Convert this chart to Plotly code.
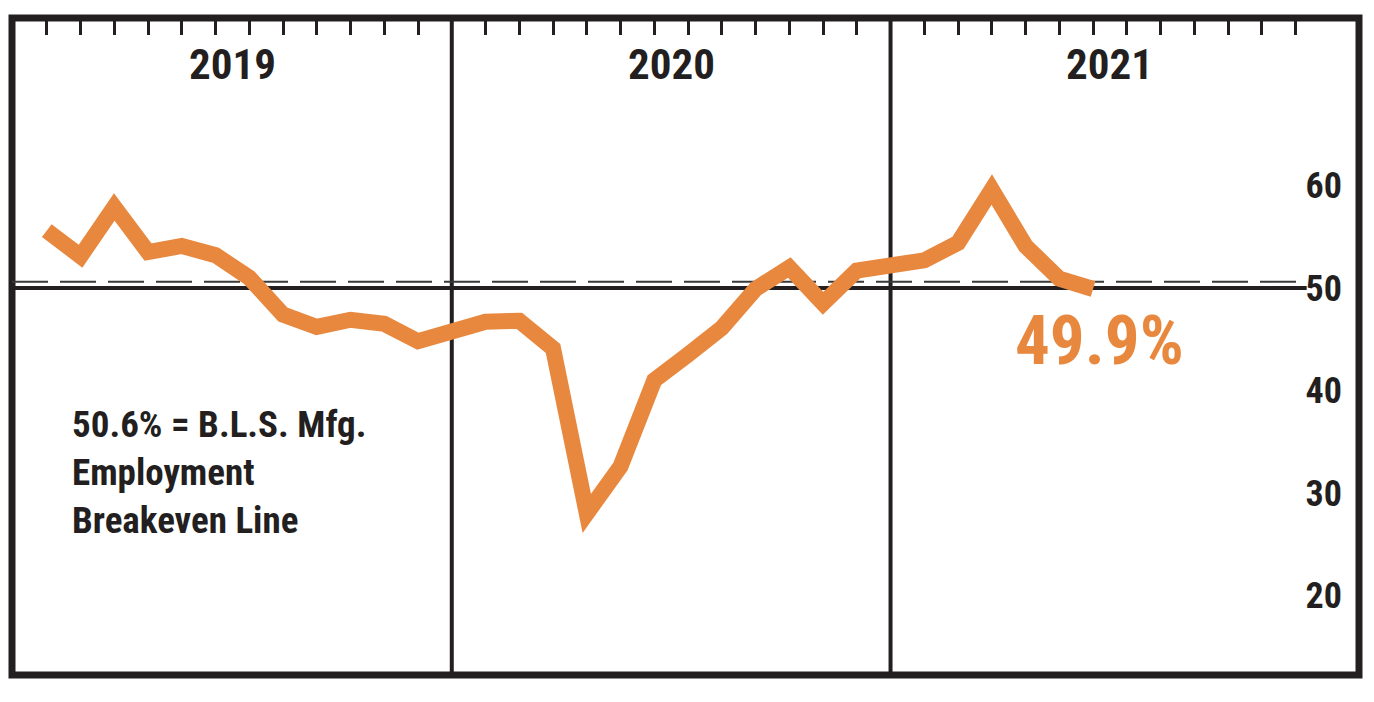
import plotly.graph_objects as go

# ---------------- data ----------------
years = [2019, 2020, 2021]
months = ["Jan", "Feb", "Mar", "Apr", "May", "Jun",
          "Jul", "Aug", "Sep", "Oct", "Nov", "Dec"]
values_2019 = [55.6, 53.1, 57.9, 53.5, 54.1, 53.2, 51.0, 47.4, 46.2, 46.9, 46.5, 44.8]
values_2020 = [46.7, 46.8, 44.1, 28.0, 32.6, 41.0, 43.5, 46.1, 49.9, 52.0, 48.5, 51.7]
values_2021 = [52.7, 54.4, 59.6, 54.1, 50.9, 49.9]
breakeven = 50.6
baseline = 50
y_ticks = [20, 30, 40, 50, 60]
latest_label = "49.9%"
note_lines = ["50.6% = B.L.S. Mfg.", "Employment", "Breakeven Line"]

# ---------------- style ----------------
ORANGE = "#E8883E"
INK = "#231F20"
FONT = "Roboto Condensed, Open Sans, sans-serif"
SLOTS_PER_YEAR = 13  # 12 months + one gap slot at each year divider


def font(size, color=INK):
    return dict(family=FONT, size=size, color=color, weight="bold")


def slot(year_i, month_i):
    return year_i * SLOTS_PER_YEAR + month_i + 1


series = [values_2019, values_2020, values_2021]
xs, ys, labels = [], [], []
for yi, vals in enumerate(series):
    for mi, v in enumerate(vals):
        xs.append(slot(yi, mi))
        ys.append(v)
        labels.append(f"{months[mi]} {years[yi]}")

tick_slots = [slot(yi, mi) for yi in range(len(years)) for mi in range(12)]

fig = go.Figure()
fig.add_trace(go.Scatter(
    x=xs, y=ys, mode="lines", text=labels,
    line=dict(color=ORANGE, width=16),
    hovertemplate="%{text}: %{y}<extra></extra>",
    showlegend=False,
))

x_range = [-0.03, 39.88]
y_range = [12.24, 76.34]

shapes = [
    # outer frame
    dict(type="rect", xref="paper", yref="paper", x0=0, x1=1, y0=0, y1=1,
         line=dict(color=INK, width=7), layer="below"),
    # breakeven dashed line
    dict(type="line", xref="x", yref="y", x0=x_range[0], x1=38.04,
         y0=breakeven, y1=breakeven,
         line=dict(color="#3A3A3A", width=2, dash="36px,12px"), layer="below"),
    # 50 solid line
    dict(type="line", xref="x", yref="y", x0=x_range[0], x1=38.33,
         y0=baseline, y1=baseline,
         line=dict(color=INK, width=4), layer="below"),
]
for yi in range(1, len(years)):
    xd = yi * SLOTS_PER_YEAR
    shapes.append(dict(type="line", xref="x", yref="paper", x0=xd, x1=xd,
                       y0=0, y1=1, line=dict(color=INK, width=4), layer="below"))

annotations = []
for yi, yr in enumerate(years):
    annotations.append(dict(
        x=yi * SLOTS_PER_YEAR + 6.5, y=71.9, xref="x", yref="y",
        text=str(yr), showarrow=False, font=font(43),
        xanchor="center", yanchor="middle"))

annotations.append(dict(
    x=1.7, y=32.0, xref="x", yref="y",
    text="<br>".join(note_lines), showarrow=False, align="left",
    font=font(37), xanchor="left", yanchor="middle"))

annotations.append(dict(
    x=32.2, y=44.88, xref="x", yref="y",
    text=latest_label, showarrow=False, font=font(69, ORANGE),
    xanchor="center", yanchor="middle"))

fig.update_layout(
    width=1374, height=702,
    margin=dict(l=12, r=15, t=18, b=27),
    paper_bgcolor="white", plot_bgcolor="white",
    shapes=shapes, annotations=annotations,
    xaxis=dict(range=x_range, side="top", tickvals=tick_slots,
               ticks="inside", ticklen=17, tickwidth=3.3, tickcolor=INK,
               showticklabels=False, showgrid=False, zeroline=False, showline=False,
               fixedrange=True),
    yaxis=dict(range=y_range, side="right", tickvals=y_ticks,
               ticklabelposition="inside", ticks="", ticklabelstandoff=14,
               tickfont=font(36),
               showgrid=False, zeroline=False, showline=False, fixedrange=True),
)

post = """
var s = document.createElement('style');
s.textContent = '.js-plotly-plot text { font-stretch: condensed !important; }' +
  '.js-plotly-plot .scatterlayer path.js-line { stroke-linejoin: miter !important; stroke-miterlimit: 10 !important; }';
document.head.appendChild(s);
document.body.style.margin = '0';
var gd = document.getElementById('{plot_id}');
Plotly.redraw(gd);
"""

fig.write_html("out.html", config={"displayModeBar": False}, post_script=post)
